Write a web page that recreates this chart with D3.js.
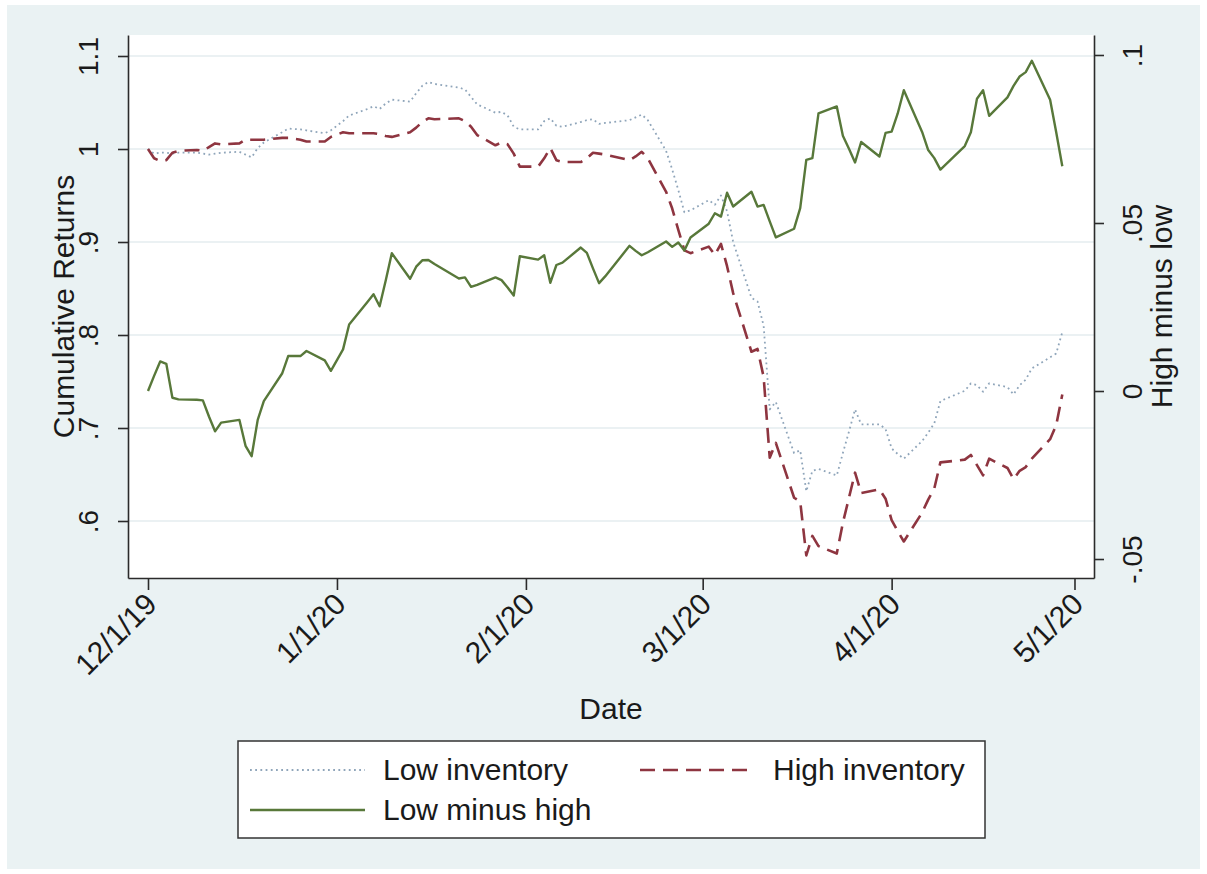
<!DOCTYPE html>
<html>
<head>
<meta charset="utf-8">
<script src="https://cdn.jsdelivr.net/npm/d3@7"></script>
<style>
  body { margin: 0; background: #ffffff; }
  svg text { font-family: "Liberation Sans", Arial, sans-serif; fill: #1a1a1a; }
</style>
</head>
<body>
<svg id="chart" width="1207" height="874"></svg>
<script>
// Trading days, Dec 2019 - Apr 2020 (first entry is the normalisation date)
const dates = [
  "2019-12-01","2019-12-02","2019-12-03","2019-12-04","2019-12-05","2019-12-06",
  "2019-12-09","2019-12-10","2019-12-11","2019-12-12","2019-12-13",
  "2019-12-16","2019-12-17","2019-12-18","2019-12-19","2019-12-20",
  "2019-12-23","2019-12-24","2019-12-26","2019-12-27",
  "2019-12-30","2019-12-31","2020-01-02","2020-01-03",
  "2020-01-06","2020-01-07","2020-01-08","2020-01-09","2020-01-10",
  "2020-01-13","2020-01-14","2020-01-15","2020-01-16","2020-01-17",
  "2020-01-21","2020-01-22","2020-01-23","2020-01-24",
  "2020-01-27","2020-01-28","2020-01-29","2020-01-30","2020-01-31",
  "2020-02-03","2020-02-04","2020-02-05","2020-02-06","2020-02-07",
  "2020-02-10","2020-02-11","2020-02-12","2020-02-13","2020-02-14",
  "2020-02-18","2020-02-19","2020-02-20","2020-02-21",
  "2020-02-24","2020-02-25","2020-02-26","2020-02-27","2020-02-28",
  "2020-03-02","2020-03-03","2020-03-04","2020-03-05","2020-03-06",
  "2020-03-09","2020-03-10","2020-03-11","2020-03-12","2020-03-13",
  "2020-03-16","2020-03-17","2020-03-18","2020-03-19","2020-03-20",
  "2020-03-23","2020-03-24","2020-03-25","2020-03-26","2020-03-27",
  "2020-03-30","2020-03-31","2020-04-01","2020-04-02","2020-04-03",
  "2020-04-06","2020-04-07","2020-04-08","2020-04-09",
  "2020-04-13","2020-04-14","2020-04-15","2020-04-16","2020-04-17",
  "2020-04-20","2020-04-21","2020-04-22","2020-04-23","2020-04-24",
  "2020-04-27","2020-04-28","2020-04-29"
];

// Cumulative returns, low-inventory portfolio (left axis)
const lowInventory = [
  1.000,0.995,0.996,0.996,0.995,0.996,
  0.996,0.995,0.994,0.995,0.996,
  0.997,0.994,0.991,1.001,1.007,
  1.018,1.022,1.021,1.020,
  1.017,1.020,1.030,1.036,
  1.043,1.046,1.043,1.049,1.053,
  1.051,1.060,1.068,1.072,1.070,
  1.066,1.064,1.056,1.048,
  1.039,1.040,1.036,1.024,1.021,
  1.021,1.030,1.033,1.025,1.024,
  1.029,1.031,1.032,1.027,1.028,
  1.031,1.034,1.037,1.031,
  0.998,0.978,0.956,0.932,0.934,
  0.945,0.940,0.950,0.933,0.900,
  0.840,0.836,0.810,0.720,0.728,
  0.673,0.676,0.632,0.654,0.656,
  0.649,0.673,0.696,0.720,0.704,
  0.704,0.699,0.678,0.672,0.667,
  0.686,0.695,0.705,0.729,
  0.740,0.748,0.746,0.739,0.748,
  0.744,0.736,0.746,0.752,0.764,
  0.776,0.780,0.803
];

// Cumulative returns, high-inventory portfolio (left axis)
const highInventory = [
  1.000,0.990,0.987,0.988,0.996,0.998,
  0.999,0.998,1.002,1.006,1.005,
  1.006,1.010,1.010,1.010,1.010,
  1.012,1.012,1.010,1.008,
  1.008,1.013,1.018,1.017,
  1.017,1.017,1.016,1.014,1.013,
  1.018,1.023,1.029,1.033,1.032,
  1.033,1.030,1.024,1.015,
  1.004,1.007,1.005,0.995,0.981,
  0.981,0.990,1.001,0.988,0.986,
  0.986,0.990,0.996,0.995,0.994,
  0.988,0.992,0.997,0.990,
  0.954,0.936,0.913,0.891,0.888,
  0.895,0.886,0.898,0.874,0.845,
  0.782,0.785,0.755,0.668,0.684,
  0.625,0.621,0.563,0.584,0.573,
  0.565,0.598,0.625,0.652,0.630,
  0.634,0.624,0.601,0.589,0.578,
  0.609,0.623,0.635,0.663,
  0.666,0.671,0.660,0.649,0.667,
  0.657,0.645,0.654,0.658,0.667,
  0.688,0.703,0.736
];

// Spread between the two portfolios (right axis)
const lowMinusHigh = [
  0.0000,0.0045,0.0088,0.0081,-0.0020,-0.0025,
  -0.0026,-0.0028,-0.0076,-0.0120,-0.0094,
  -0.0086,-0.0163,-0.0194,-0.0086,-0.0030,
  0.0052,0.0104,0.0104,0.0119,
  0.0091,0.0060,0.0124,0.0198,
  0.0265,0.0288,0.0252,0.0329,0.0410,
  0.0334,0.0370,0.0389,0.0390,0.0378,
  0.0335,0.0338,0.0310,0.0316,
  0.0338,0.0330,0.0308,0.0284,0.0401,
  0.0391,0.0404,0.0322,0.0375,0.0382,
  0.0427,0.0411,0.0365,0.0321,0.0341,
  0.0432,0.0417,0.0404,0.0413,
  0.0445,0.0429,0.0442,0.0418,0.0457,
  0.0498,0.0529,0.0519,0.0590,0.0549,
  0.0593,0.0549,0.0554,0.0505,0.0457,
  0.0483,0.0544,0.0688,0.0693,0.0826,
  0.0847,0.0760,0.0721,0.0680,0.0741,
  0.0698,0.0768,0.0772,0.0826,0.0895,
  0.0771,0.0717,0.0693,0.0659,
  0.0729,0.0770,0.0870,0.0895,0.0819,
  0.0874,0.0908,0.0936,0.0949,0.0983,
  0.0867,0.0770,0.0669
];

const leftTicks = [0.6, 0.7, 0.8, 0.9, 1.0, 1.1];
const leftTickLabels = [".6", ".7", ".8", ".9", "1", "1.1"];
const rightTicks = [-0.05, 0, 0.05, 0.1];
const rightTickLabels = ["-.05", "0", ".05", ".1"];
const dateTicks = ["2019-12-01","2020-01-01","2020-02-01","2020-03-01","2020-04-01","2020-05-01"];
const dateTickLabels = ["12/1/19", "1/1/20", "2/1/20", "3/1/20", "4/1/20", "5/1/20"];

const seriesNames = ["Low inventory", "High inventory", "Low minus high"];

// ---- layout ----
const W = 1207, H = 874;
const plot = { left: 128, right: 1094, top: 35, bottom: 578 };
const DAY = 864e5;
const parse = d3.utcParse("%Y-%m-%d");

const styles = {
  low:    { stroke: "#8fa5ba", width: 1.8, dash: "1.8,3.4" },
  high:   { stroke: "#8e3540", width: 2.6, dash: "15,8" },
  spread: { stroke: "#58783a", width: 2.4, dash: null }
};

const svg = d3.select("#chart");

// graph region background
svg.append("rect").attr("x", 7).attr("y", 5).attr("width", W - 14).attr("height", H - 10)
  .attr("fill", "#eaf2f3");
// plot region
svg.append("rect").attr("x", plot.left).attr("y", plot.top)
  .attr("width", plot.right - plot.left).attr("height", plot.bottom - plot.top)
  .attr("fill", "#ffffff");

// ---- scales ----
const x = d3.scaleUtc()
  .domain([new Date(parse(dateTicks[0]).getTime() - 3.282 * DAY),
           new Date(parse(dateTicks[dateTicks.length - 1]).getTime() + 3.2 * DAY)])
  .range([plot.left, plot.right]);
const yL = d3.scaleLinear().domain([0.53871, 1.12258]).range([plot.bottom, plot.top]);
const yR = d3.scaleLinear().domain([-0.05565, 0.10595]).range([plot.bottom, plot.top]);

// ---- gridlines (left axis) ----
svg.append("g").selectAll("line").data(leftTicks).join("line")
  .attr("x1", plot.left).attr("x2", plot.right)
  .attr("y1", d => yL(d)).attr("y2", d => yL(d))
  .attr("stroke", "#e4ecef").attr("stroke-width", 1.6);

// ---- series ----
const parsedDates = dates.map(parse);
function drawSeries(values, scale, st) {
  const line = d3.line().x((d, i) => x(parsedDates[i])).y(d => scale(d));
  const p = svg.append("path").datum(values)
    .attr("d", line)
    .attr("fill", "none")
    .attr("stroke", st.stroke)
    .attr("stroke-width", st.width)
    .attr("stroke-linejoin", "round");
  if (st.dash) p.attr("stroke-dasharray", st.dash);
}
drawSeries(lowInventory, yL, styles.low);
drawSeries(highInventory, yL, styles.high);
drawSeries(lowMinusHigh, yR, styles.spread);

// ---- axes ----
const axisColor = "#2b2b2b";
const tickFont = 28;

function styleAxis(g) {
  g.select(".domain").attr("stroke", axisColor).attr("stroke-width", 1.6);
  g.selectAll(".tick line").attr("stroke", axisColor).attr("stroke-width", 1.6);
  g.selectAll(".tick text").attr("fill", "#1a1a1a").style("font-size", tickFont + "px")
    .style("font-family", '"Liberation Sans", Arial, sans-serif');
}

// left axis
const gL = svg.append("g").attr("transform", `translate(${plot.left},0)`)
  .call(d3.axisLeft(yL).tickValues(leftTicks)
    .tickFormat((d, i) => leftTickLabels[i]).tickSize(10).tickSizeOuter(0));
styleAxis(gL);
gL.selectAll(".tick text")
  .attr("transform", "rotate(-90)")
  .attr("x", 0).attr("y", -30).attr("dy", 0)
  .attr("text-anchor", "middle");

// right axis
const gR = svg.append("g").attr("transform", `translate(${plot.right},0)`)
  .call(d3.axisRight(yR).tickValues(rightTicks)
    .tickFormat((d, i) => rightTickLabels[i]).tickSize(10).tickSizeOuter(0));
styleAxis(gR);
gR.selectAll(".tick text")
  .attr("transform", "rotate(-90)")
  .attr("x", 0).attr("y", 48).attr("dy", 0)
  .attr("text-anchor", "middle");

// bottom axis
const gB = svg.append("g").attr("transform", `translate(0,${plot.bottom})`)
  .call(d3.axisBottom(x).tickValues(dateTicks.map(parse))
    .tickFormat((d, i) => dateTickLabels[i]).tickSize(12).tickSizeOuter(0));
styleAxis(gB);
gB.selectAll(".tick text")
  .style("font-size", "30px")
  .attr("text-anchor", "end")
  .attr("x", 0).attr("y", 0).attr("dy", 0)
  .attr("transform", "translate(10,28) rotate(-45)");

// ---- axis titles ----
svg.append("text")
  .attr("transform", `translate(74,${(plot.top + plot.bottom) / 2}) rotate(-90)`)
  .attr("text-anchor", "middle").style("font-size", "30px")
  .text("Cumulative Returns");
svg.append("text")
  .attr("transform", `translate(1172,${(plot.top + plot.bottom) / 2}) rotate(-90)`)
  .attr("text-anchor", "middle").style("font-size", "30px")
  .text("High minus low");
svg.append("text")
  .attr("x", (plot.left + plot.right) / 2).attr("y", 719)
  .attr("text-anchor", "middle").style("font-size", "30px")
  .text("Date");

// ---- legend ----
const legend = svg.append("g");
legend.append("rect").attr("x", 238).attr("y", 741).attr("width", 747).attr("height", 97)
  .attr("fill", "#ffffff").attr("stroke", "#333333").attr("stroke-width", 1.5);
const legendItems = [
  { name: seriesNames[0], st: styles.low,    x: 250, y: 770 },
  { name: seriesNames[1], st: styles.high,   x: 640, y: 770 },
  { name: seriesNames[2], st: styles.spread, x: 250, y: 810 }
];
legendItems.forEach(it => {
  const l = legend.append("line")
    .attr("x1", it.x).attr("x2", it.x + 115).attr("y1", it.y).attr("y2", it.y)
    .attr("stroke", it.st.stroke).attr("stroke-width", it.st.width);
  if (it.st.dash) l.attr("stroke-dasharray", it.st.dash);
  legend.append("text")
    .attr("x", it.x + 133).attr("y", it.y + 10)
    .style("font-size", "30px")
    .text(it.name);
});
</script>
</body>
</html>
